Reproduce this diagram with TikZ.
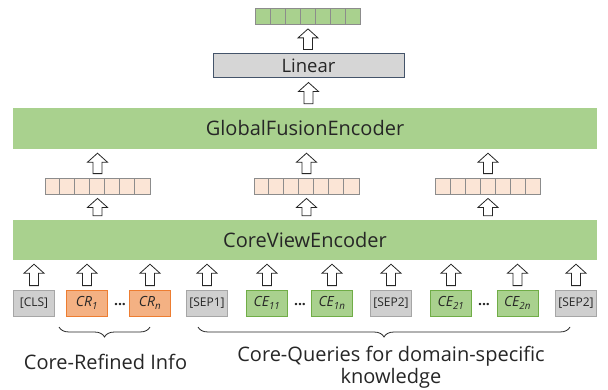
\documentclass[tikz,border=0pt]{standalone}
\usepackage{fontspec}
\setmainfont{Open Sans}
\usetikzlibrary{calc,positioning,decorations.pathreplacing}
\definecolor{bandgreen}{HTML}{A9D18E}
\definecolor{peach}{HTML}{FBE5D6}
\definecolor{cellgray}{HTML}{8C8C8C}
\definecolor{lingray}{HTML}{D6D6D6}
\definecolor{linblue}{HTML}{44546A}
\definecolor{tokgray}{HTML}{CFCFCF}
\definecolor{tokgrayline}{HTML}{A6A6A6}
\definecolor{crfill}{HTML}{F4B183}
\definecolor{crline}{HTML}{ED7D31}
\definecolor{celine}{HTML}{70AD47}
\definecolor{txt}{HTML}{262626}

% block arrow going up from #1 to #2
\newcommand{\upblock}[2]{%
  \draw[blockarr] let \p1=(#1), \p2=(#2) in
    (\x1-4.5,\y1+4) -- (\x1+4.5,\y1+4) -- (\x1+4.5,\y2-13) -- (\x1+10,\y2-13)
    -- (\x1,\y2-4) -- (\x1-10,\y2-13) -- (\x1-4.5,\y2-13) -- cycle;}
% split a vector node into 7 cells
\newcommand{\cellrow}[1]{%
  \foreach \k in {1,...,6}
    \draw[cellline] ($(#1.south west)+(\k*15,0)$) -- ($(#1.north west)+(\k*15,0)$);}

\begin{document}
\begin{tikzpicture}[x=1pt,y=1pt,
    every node/.style={text=txt},
    band/.style={fill=bandgreen, minimum width=584pt, minimum height=40pt, inner sep=0pt,
      font=\fontsize{20}{24}\selectfont},
    vecrow/.style={draw=cellgray, line width=0.8pt, minimum width=105pt, minimum height=16pt, inner sep=0pt},
    cellline/.style={draw=cellgray, line width=0.8pt},
    blockarr/.style={draw=txt, fill=white, line width=0.8pt, line join=miter},
    tok/.style={minimum width=41pt, minimum height=26pt, inner sep=0pt, line width=0.8pt},
    sptok/.style={tok, fill=tokgray, draw=tokgrayline, font=\fontsize{12}{14}\selectfont},
    crtok/.style={tok, fill=crfill, draw=crline, font=\fontsize{14}{16}\selectfont\itshape},
    cetok/.style={tok, fill=bandgreen, draw=celine, font=\fontsize{14}{16}\selectfont\itshape},
    dots/.style={font=\fontsize{14}{16}\selectfont\bfseries, inner sep=0pt},
    bracebig/.style={decorate, decoration={brace, mirror, amplitude=10pt}, draw=txt, line width=0.8pt},
    caption/.style={font=\fontsize{20}{22}\selectfont, inner sep=0pt, align=center}]
\useasboundingbox (0,0) rectangle (608,389);

% encoders
\node[band] (cve) at (305,149) {CoreViewEncoder};
\node[band, minimum height=41pt] (gfe) at (305,260.5) {GlobalFusionEncoder};
\node[draw=linblue, line width=1pt, fill=lingray, minimum width=191pt, minimum height=24pt,
  inner sep=0pt, font=\fontsize{18.5}{22}\selectfont] (lin) at (308.5,323) {Linear};

% output vector
\node[vecrow, fill=bandgreen] (out) at (308,372.5) {};
\cellrow{out}

% pooled vectors
\node[vecrow, fill=peach] (v1) at (97.5,203) {};
\node[vecrow, fill=peach] (v2) at (306.5,203) {};
\node[vecrow, fill=peach] (v3) at (488,203) {};
\cellrow{v1}\cellrow{v2}\cellrow{v3}

% input tokens
\node[sptok] (cls) at (34,86) {[CLS]};
\node[crtok] (cr1) at (87,86) {CR\textsubscript{1}};
\node[dots] (d1) at (120,84) {...};
\node[crtok] (crn) at (150,86) {CR\textsubscript{n}};
\node[sptok] (sep1) at (207,86) {[SEP1]};
\node[cetok] (ce11) at (267,86) {CE\textsubscript{11}};
\node[dots] (d2) at (300,84) {...};
\node[cetok] (ce1n) at (332,86) {CE\textsubscript{1n}};
\node[sptok] (sep2) at (391,86) {[SEP2]};
\node[cetok] (ce21) at (451,86) {CE\textsubscript{21}};
\node[dots] (d3) at (484,84) {...};
\node[cetok] (ce2n) at (517.5,86) {CE\textsubscript{2n}};
\node[sptok] (sep3) at (576,86) {[SEP2]};

% arrows
\foreach \t in {cls,cr1,crn,sep1,ce11,ce1n,sep2,ce21,ce2n,sep3}
  \upblock{\t.north}{\t.north |- cve.south};
\foreach \v in {v1,v2,v3}{
  \upblock{\v.north |- cve.north}{\v.south};
  \upblock{\v.north}{\v.north |- gfe.south};
}
\upblock{lin.south |- gfe.north}{lin.south}
\upblock{out.south |- lin.north}{out.south}

% braces and captions
\coordinate (b1l) at (59,62);
\coordinate (b1r) at (150,62);
\coordinate (b2l) at (198,62);
\coordinate (b2r) at (570,62);
\draw[bracebig] (b1l) -- (b1r);
\draw[bracebig] (b2l) -- (b2r);
\node[caption, anchor=base] (capcr) at (105.5,20) {Core-Refined Info};
\node[caption, anchor=north] (capce) at (391,43) {Core-Queries for domain-specific\\knowledge};
\end{tikzpicture}
\end{document}
